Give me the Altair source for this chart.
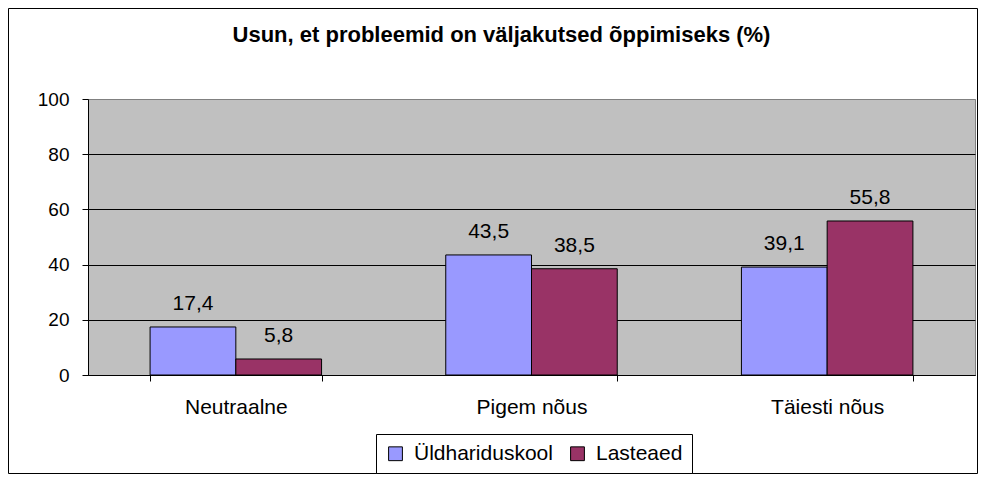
import altair as alt
import pandas as pd

categories = ["Neutraalne", "Pigem nõus", "Täiesti nõus"]
series = ["Üldhariduskool", "Lasteaed"]
uldharidus = [17.4, 43.5, 39.1]
lasteaed = [5.8, 38.5, 55.8]
colors = ["#9999FF", "#993366"]
y_ticks = [0, 20, 40, 60, 80, 100]

rows = []
for c, a, b in zip(categories, uldharidus, lasteaed):
    rows.append({"cat": c, "series": series[0], "value": a})
    rows.append({"cat": c, "series": series[1], "value": b})
df = pd.DataFrame(rows)

W, H = 887, 276
FONT = "Liberation Sans"

x_enc = alt.X("cat:N", sort=categories,
              scale=alt.Scale(paddingInner=0.42, paddingOuter=0.21),
              axis=alt.Axis(title=None, labelFontSize=21, labelColor="black",
                            domainColor="black", tickColor="black", tickSize=6,
                            tickBand="extent", labelPadding=15,
                            labelAngle=0, grid=False))
xo_enc = alt.XOffset("series:N", sort=series, scale=alt.Scale(paddingInner=0, paddingOuter=0))
y_enc = alt.Y("value:Q", scale=alt.Scale(domain=[0, 100]),
              axis=alt.Axis(title=None, values=y_ticks, labelFontSize=19, labelColor="black",
                            domainColor="black", tickColor="black", tickSize=6,
                            labelPadding=13, grid=True,
                            gridColor={"condition": {"test": "datum.value == 100", "value": "#808080"},
                                       "value": "black"}))

bars = alt.Chart(df).mark_bar(stroke="black", strokeWidth=1).encode(
    x=x_enc, xOffset=xo_enc, y=y_enc,
    color=alt.Color("series:N", sort=series,
                    scale=alt.Scale(domain=series, range=colors),
                    legend=alt.Legend(title=None, orient="none", legendX=288, legendY=335,
                                      direction="horizontal", strokeColor="black",
                                      fillColor="white", padding=9, labelFontSize=21,
                                      labelColor="black", symbolType="square", symbolSize=190,
                                      symbolStrokeColor="black", symbolStrokeWidth=1,
                                      labelOffset=8, columnPadding=14)),
)

labels = alt.Chart(df).transform_calculate(
    lbl="replace(format(datum.value, '.1f'), '.', ',')"
).mark_text(fontSize=21, color="black", baseline="alphabetic", dy=-17).encode(
    x=alt.X("cat:N", sort=categories), xOffset=alt.XOffset("series:N", sort=series),
    y="value:Q", text="lbl:N",
)

border = alt.Chart(pd.DataFrame({"a": [0]})).mark_rect(
    fillOpacity=0, stroke="black", strokeWidth=1
).encode(
    x=alt.value(-79.5), x2=alt.value(889.5), y=alt.value(-90.5), y2=alt.value(374.5)
)

chart = alt.layer(bars, labels, border).properties(
    width=W, height=H,
    title=alt.TitleParams(text="Usun, et probleemid on väljakutsed õppimiseks (%)",
                          fontSize=22, fontWeight="bold", color="black", anchor="middle",
                          dx=-30, offset=-56, baseline="alphabetic", font=FONT),
    autosize=alt.AutoSizeParams(type="none"),
    padding={"left": 80, "top": 91, "right": 3, "bottom": 99},
).configure(font=FONT, background="white").configure_view(
    fill="#C0C0C0", stroke="#808080", strokeWidth=1
).configure_axis(labelFont=FONT).configure_legend(labelFont=FONT)

chart.save("out.html", embed_options={"renderer": "svg", "actions": False})
